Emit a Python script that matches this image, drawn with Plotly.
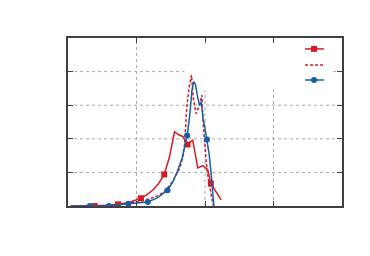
import plotly.graph_objects as go

# --- data ---
x_red = [0.05, 0.39, 0.56, 0.73, 0.90, 1.065, 1.15, 1.235, 1.32, 1.405, 1.48, 1.555,
         1.615, 1.677, 1.745, 1.82, 1.895, 1.97, 2.04, 2.085, 2.16, 2.236]
y_red = [0.0, 0.0, 0.02, 0.05, 0.11, 0.23, 0.33, 0.47, 0.66, 0.94, 1.45, 2.21,
         2.12, 2.07, 1.83, 1.97, 1.13, 1.20, 1.08, 0.67, 0.42, 0.18]
red_marker_idx = [1, 3, 5, 9, 14, 19]

x_dash = [0.05, 0.4, 0.7, 0.9, 1.05, 1.2, 1.3, 1.385, 1.46, 1.53, 1.58, 1.63, 1.67, 1.70,
          1.716, 1.735, 1.765, 1.785, 1.803, 1.83, 1.87, 1.91, 1.955, 1.97, 1.98, 2.0,
          2.02, 2.045, 2.065, 2.09, 2.11, 2.125]
y_dash = [0.0, 0.0, 0.03, 0.08, 0.14, 0.22, 0.30, 0.40, 0.55, 0.74, 0.92, 1.12, 1.40, 1.80,
          2.31, 2.95, 3.50, 3.75, 3.90, 3.20, 2.75, 2.95, 3.30, 2.55, 2.25, 1.75,
          1.28, 0.85, 0.58, 0.30, 0.12, 0.0]

x_blue = [0.033, 0.318, 0.598, 0.88, 1.02, 1.165, 1.31, 1.453, 1.53, 1.60, 1.67, 1.74,
          1.78, 1.81, 1.835, 1.86, 1.895, 1.92, 1.945, 1.97, 2.0, 2.03, 2.06, 2.09, 2.13]
y_blue = [0.0, 0.0, 0.0, 0.07, 0.09, 0.12, 0.25, 0.47, 0.72, 1.05, 1.45, 2.10,
          2.75, 3.45, 3.70, 3.62, 3.22, 3.00, 3.10, 2.62, 2.30, 1.98, 1.55, 0.95, 0.0]
blue_marker_idx = [1, 2, 3, 5, 7, 11, 21]

# grid segments (x0, y0, x1, y1), interrupted by the key area
grid_segments = [
    (1, 0, 1, 5), (2, 0, 2, 3.45), (3, 0, 3, 3.5),
    (0, 1, 4, 1), (0, 2, 4, 2), (0, 3, 4, 3), (0, 4, 1.70, 4), (3.87, 4, 4, 4),
]

RED = "#d41c22"
BLUE = "#1560ac"
CLEAR = "rgba(0,0,0,0)"
AX = "#404040"

def marker_colors(n, idx, c):
    return [c if i in idx else CLEAR for i in range(n)]

fig = go.Figure()
fig.add_trace(go.Scatter(
    x=x_red, y=y_red, mode="lines+markers", showlegend=False,
    line=dict(color=RED, width=1.5),
    marker=dict(symbol="square", size=6, color=marker_colors(len(x_red), red_marker_idx, RED),
                line=dict(width=0)),
))
fig.add_trace(go.Scatter(
    x=x_dash, y=y_dash, mode="lines", showlegend=False,
    line=dict(color=RED, width=1.5, dash="3px,2px"),
))
fig.add_trace(go.Scatter(
    x=x_blue, y=y_blue, mode="lines+markers", showlegend=False,
    line=dict(color=BLUE, width=1.5),
    marker=dict(symbol="circle", size=6, color=marker_colors(len(x_blue), blue_marker_idx, BLUE),
                line=dict(width=0)),
))

for (x0, y0, x1, y1) in grid_segments:
    fig.add_shape(type="line", x0=x0, y0=y0, x1=x1, y1=y1, xref="x", yref="y",
                  line=dict(color="#aaaaaa", width=1, dash="dot"), layer="below")

# key (legend samples without text), drawn in paper coordinates
key_x0, key_x1, key_xm = 0.865, 0.934, 0.898
key_rows = [(0.935, RED, "solid", "square"), (0.839, RED, "3px,2px", None), (0.750, BLUE, "solid", "circle")]
for (ky, col, dash, sym) in key_rows:
    fig.add_shape(type="line", xref="paper", yref="paper", x0=key_x0, x1=key_x1, y0=ky, y1=ky,
                  line=dict(color=col, width=1.5, dash=dash))
    if sym:
        fig.add_shape(type="rect" if sym == "square" else "circle", xref="paper", yref="paper",
                      xsizemode="pixel", ysizemode="pixel", xanchor=key_xm, yanchor=ky,
                      x0=-3, x1=3, y0=-3, y1=3, fillcolor=col, line=dict(width=0))

axis_common = dict(showticklabels=False, ticks="inside", ticklen=5, tickwidth=1.2,
                   tickcolor=AX, showline=True, linecolor=AX, linewidth=1.5,
                   mirror="ticks", showgrid=False, zeroline=False, dtick=1)
fig.update_xaxes(range=[0, 4], **axis_common)
fig.update_yaxes(range=[0, 5], **axis_common)

fig.update_layout(
    width=370, height=256,
    margin=dict(l=60, r=36, t=30, b=58),
    paper_bgcolor="white", plot_bgcolor="white",
    showlegend=False,
)

fig.write_html("out.html")
